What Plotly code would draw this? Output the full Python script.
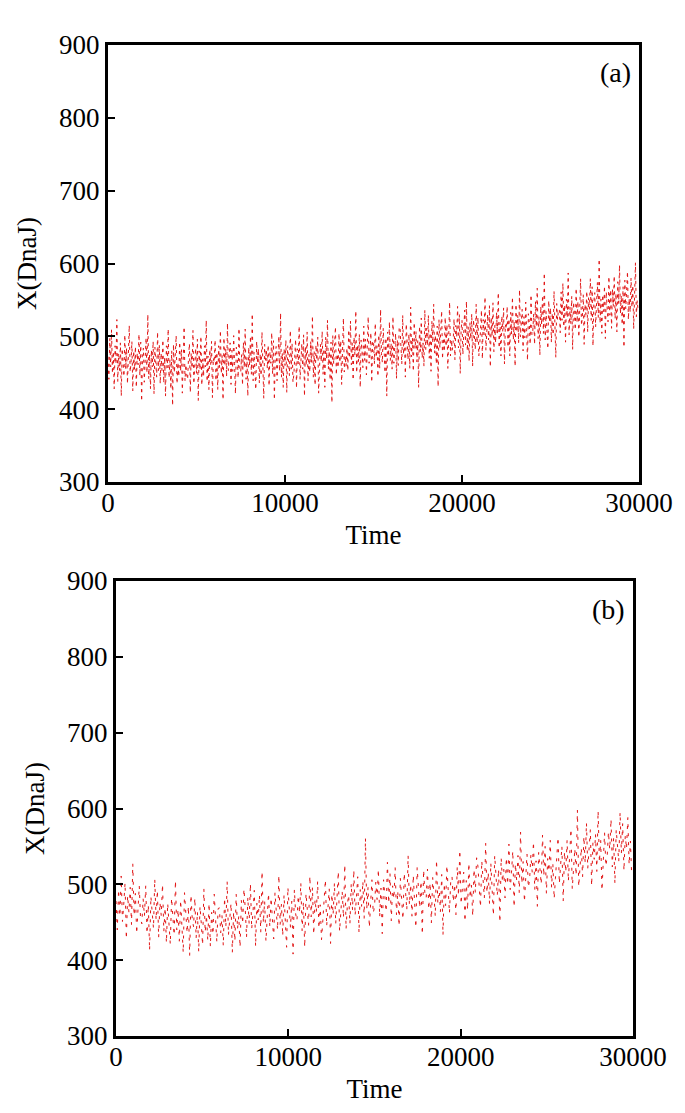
import plotly.graph_objects as go

dt_a = 50
dt_b = 75

dnaj_a = [
    472, 441, 497, 458, 509, 449, 479, 428, 487, 462, 523, 438, 476, 453, 491, 418, 483, 469, 445, 502,
    455, 484, 435, 473, 515, 451, 463, 493, 425, 480,
    454, 486, 430, 477, 461, 503, 446, 492, 411, 472, 484, 437, 468, 498, 450, 530, 442, 475, 428, 481,
    458, 493, 421, 485, 463, 444, 506, 453, 488, 435,
    477, 453, 495, 436, 471, 418, 487, 457, 510, 443, 468, 428, 480, 405, 489, 450, 474, 501, 435, 464,
    445, 492, 452, 482, 422, 473, 513, 439, 461, 447,
    441, 472, 490, 423, 477, 456, 508, 435, 465, 484, 449, 496, 412, 480, 454, 500, 433, 469, 445, 487,
    458, 522, 438, 473, 427, 482, 461, 493, 416, 470,
    464, 495, 439, 478, 427, 487, 457, 508, 449, 474, 413, 498, 460, 483, 445, 518, 453, 467, 491, 434,
    481, 452, 501, 463, 421, 485, 473, 443, 511, 456,
    451, 475, 433, 492, 457, 510, 441, 471, 418, 485, 460, 500, 448, 531, 439, 478, 454, 427, 493, 464,
    483, 436, 476, 446, 506, 455, 415, 489, 467, 481,
    456, 488, 432, 479, 463, 505, 448, 494, 413, 474, 486, 439, 470, 500, 452, 532, 444, 477, 430, 483,
    460, 495, 423, 487, 465, 446, 508, 455, 490, 437,
    447, 478, 496, 429, 483, 462, 514, 441, 471, 490, 455, 502, 418, 486, 460, 506, 439, 475, 451, 493,
    464, 528, 444, 479, 433, 488, 467, 499, 422, 476,
    489, 465, 507, 448, 483, 430, 499, 469, 522, 455, 480, 440, 492, 409, 501, 462, 486, 513, 447, 476,
    457, 504, 464, 494, 434, 485, 525, 451, 473, 459,
    484, 453, 509, 470, 521, 461, 491, 440, 499, 474, 535, 450, 488, 465, 503, 430, 495, 481, 457, 514,
    467, 496, 447, 485, 527, 463, 475, 505, 437, 492,
    494, 462, 518, 471, 487, 445, 502, 456, 537, 476, 464, 511, 480, 450, 498, 418, 506, 473, 520, 467,
    490, 455, 527, 463, 485, 504, 442, 495, 460, 513,
    511, 480, 462, 529, 475, 496, 444, 517, 487, 468, 503, 456, 540, 472, 498, 452, 519, 483, 507, 465,
    494, 430, 514, 479, 525, 470, 491, 459, 536, 482,
    511, 487, 529, 470, 505, 452, 521, 491, 544, 477, 502, 462, 514, 431, 523, 484, 508, 535, 469, 498,
    479, 526, 486, 516, 456, 507, 547, 473, 495, 481,
    492, 524, 468, 515, 499, 541, 484, 530, 449, 510, 522, 475, 506, 536, 488, 548, 480, 513, 466, 519,
    496, 531, 459, 523, 501, 482, 544, 491, 526, 473,
    487, 518, 536, 469, 523, 502, 554, 481, 511, 530, 495, 542, 458, 526, 500, 546, 479, 515, 491, 533,
    504, 560, 484, 519, 473, 528, 507, 539, 462, 516,
    510, 541, 485, 524, 473, 533, 503, 554, 495, 520, 459, 544, 506, 529, 491, 564, 499, 513, 537, 480,
    527, 498, 547, 509, 467, 531, 519, 489, 557, 502,
    507, 531, 489, 548, 513, 566, 497, 527, 474, 541, 516, 556, 504, 587, 495, 534, 510, 483, 549, 520,
    539, 492, 532, 502, 562, 511, 471, 545, 523, 537,
    536, 505, 561, 522, 573, 513, 543, 492, 551, 526, 587, 502, 540, 517, 555, 482, 547, 533, 509, 566,
    519, 548, 499, 537, 579, 515, 527, 557, 489, 544,
    530, 562, 506, 553, 537, 579, 522, 568, 487, 548, 560, 513, 544, 574, 526, 606, 518, 551, 504, 557,
    534, 569, 497, 561, 539, 520, 582, 529, 564, 511,
    565, 541, 583, 524, 559, 506, 575, 545, 598, 531, 556, 516, 568, 485, 577, 538, 562, 589, 523, 552,
    533, 580, 540, 570, 510, 561, 601, 527, 549, 535,
]

dnaj_b = [
    478, 440, 493, 458, 511, 451, 474, 502, 428, 485, 463, 496, 447, 527, 459, 488, 435, 473, 498, 454,
    448, 481, 458, 498, 435, 473, 413, 484, 463, 442, 507, 453, 492, 430, 476, 459, 500, 438, 469, 423,
    475, 447, 421, 482, 460, 433, 505, 440, 467, 425, 479, 450, 410, 489, 464, 436, 471, 406, 486, 454,
    444, 482, 429, 464, 411, 471, 448, 420, 494, 437, 459, 426, 475, 418, 463, 434, 487, 449, 424, 468,
    469, 436, 459, 419, 482, 444, 504, 433, 454, 475, 410, 464, 425, 487, 441, 458, 417, 479, 448, 494,
    468, 430, 483, 448, 501, 441, 464, 492, 418, 475, 453, 486, 437, 517, 449, 478, 425, 463, 488, 444,
    482, 454, 428, 489, 467, 440, 512, 447, 474, 432, 486, 457, 417, 496, 471, 443, 478, 408, 493, 461,
    452, 485, 462, 502, 439, 477, 417, 488, 467, 446, 511, 457, 496, 434, 480, 463, 504, 442, 473, 427,
    452, 480, 506, 445, 467, 494, 422, 487, 460, 502, 448, 477, 517, 438, 463, 491, 456, 526, 441, 473,
    486, 448, 501, 466, 519, 459, 482, 510, 436, 493, 471, 504, 455, 561, 467, 496, 443, 481, 506, 462,
    470, 503, 480, 520, 457, 495, 435, 506, 485, 464, 529, 475, 514, 452, 498, 481, 522, 460, 491, 445,
    508, 480, 454, 515, 493, 466, 538, 473, 500, 458, 512, 483, 443, 522, 497, 469, 504, 434, 519, 487,
    482, 520, 467, 502, 449, 509, 486, 458, 532, 475, 497, 464, 513, 433, 501, 472, 525, 487, 462, 506,
    510, 477, 500, 460, 523, 485, 545, 474, 495, 516, 451, 505, 466, 528, 482, 499, 458, 520, 489, 535,
    524, 496, 470, 531, 509, 482, 554, 489, 516, 474, 528, 499, 459, 538, 513, 485, 520, 450, 535, 503,
    520, 482, 535, 500, 553, 493, 516, 544, 470, 527, 505, 538, 489, 569, 501, 530, 477, 515, 540, 496,
    506, 539, 516, 556, 493, 531, 471, 542, 521, 500, 565, 511, 550, 488, 534, 517, 558, 496, 527, 481,
    508, 536, 562, 501, 523, 550, 478, 543, 516, 558, 504, 533, 573, 494, 519, 547, 512, 598, 497, 529,
    548, 510, 563, 528, 581, 521, 544, 572, 498, 555, 533, 566, 517, 597, 529, 558, 492, 543, 568, 524,
    536, 569, 546, 586, 523, 561, 501, 572, 551, 530, 595, 541, 580, 518, 564, 547, 588, 526, 557, 511,
]

panel_labels = ["(a)", "(b)"]
x_ticks = [0, 10000, 20000, 30000]
x_tick_labels = ["0", "10000", "20000", "30000"]
y_ticks = [300, 400, 500, 600, 700, 800, 900]

time_a = [i * dt_a for i in range(len(dnaj_a))]
time_b = [i * dt_b for i in range(len(dnaj_b))]

FONT = "Liberation Serif"
RED = "rgb(225,20,20)"

fig = go.Figure()
fig.add_trace(go.Scatter(x=time_a, y=dnaj_a, mode="lines", xaxis="x", yaxis="y",
                         line=dict(color=RED, width=1, dash="3px,4px"), showlegend=False))
fig.add_trace(go.Scatter(x=time_b, y=dnaj_b, mode="lines", xaxis="x2", yaxis="y2",
                         line=dict(color=RED, width=1, dash="3px,6px"), showlegend=False))

# page has an 8px body margin, so the figure is drawn 8px smaller and boxes shifted
W, H = 669, 1097
# plot boxes in figure pixels: left, right, top, bottom
boxes = [(100, 631, 37, 474), (108, 625, 573, 1028)]

def xax(box, anchor):
    return dict(domain=[box[0] / W, box[1] / W], anchor=anchor, range=[0, 30000],
                tickvals=x_ticks, ticktext=x_tick_labels, ticks="inside", ticklen=7,
                tickwidth=1.5, tickcolor="black", automargin=False, ticklabelstandoff=-5,
                showline=True, linewidth=3, linecolor="black", mirror=True, showgrid=False,
                zeroline=False, tickfont=dict(family=FONT, size=27, color="black"),
                title=dict(text="Time", font=dict(family=FONT, size=27, color="black"), standoff=8))

def yax(box, anchor):
    return dict(domain=[1 - box[3] / H, 1 - box[2] / H], anchor=anchor, range=[300, 900],
                tickvals=y_ticks, ticks="inside", ticklen=7, tickwidth=1.5, tickcolor="black",
                automargin=False,
                showline=True, linewidth=3, linecolor="black", mirror=True, showgrid=False,
                zeroline=False, tickfont=dict(family=FONT, size=27, color="black"),
                title=dict(text="X(DnaJ)", font=dict(family=FONT, size=27, color="black"), standoff=15))

fig.update_layout(
    width=W, height=H, margin=dict(l=0, r=0, t=0, b=0),
    paper_bgcolor="white", plot_bgcolor="white",
    font=dict(family=FONT, color="black"),
    xaxis=xax(boxes[0], "y"), yaxis=yax(boxes[0], "x"),
    xaxis2=xax(boxes[1], "y2"), yaxis2=yax(boxes[1], "x2"),
)

for i, lab in enumerate(panel_labels):
    sfx = "" if i == 0 else "2"
    fig.add_annotation(text=lab, xref="x" + sfx + " domain", yref="y" + sfx + " domain",
                       x=1, y=1, xanchor="right", yanchor="middle", xshift=-6, yshift=-28,
                       showarrow=False, font=dict(family=FONT, size=28, color="black"))

fig.write_html("out.html")
